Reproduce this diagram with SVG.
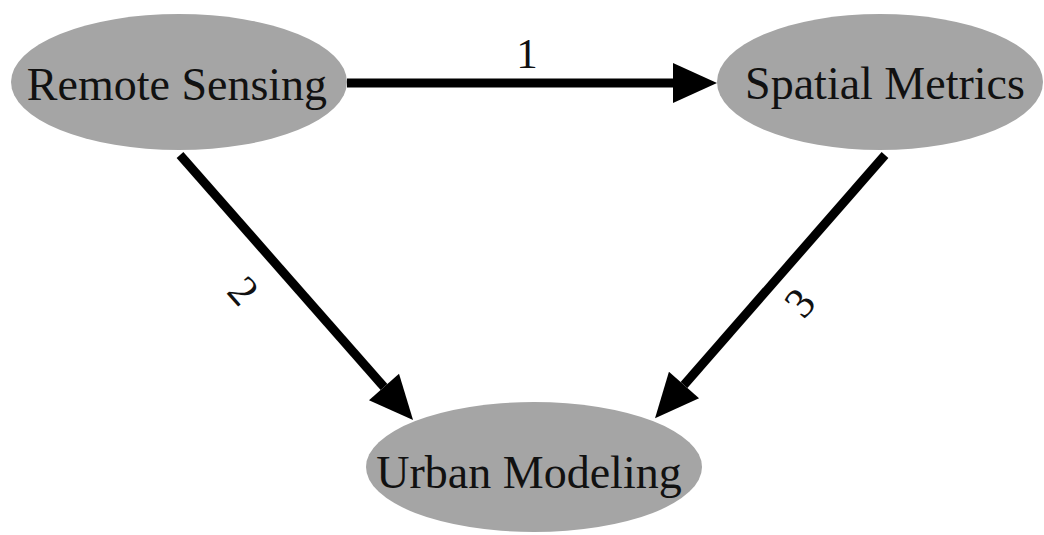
<svg xmlns="http://www.w3.org/2000/svg" width="1044" height="535" viewBox="0 0 1044 535">
  <style>
    .node ellipse { fill: #a5a5a5; }
    .node text, .label { font-family: "Liberation Serif", "Times New Roman", serif; fill: #111; text-anchor: middle; }
    .node text { font-size: 46px; }
    .label { font-size: 43px; }
    .edge { stroke: #000; stroke-width: 9; fill: none; marker-end: url(#head); }
  </style>
  <defs>
    <marker id="head" markerUnits="userSpaceOnUse" markerWidth="46" markerHeight="44" refX="0" refY="22" orient="auto" overflow="visible">
      <path d="M0,2 L44,22 L0,42 Z" fill="#000"/>
    </marker>
  </defs>
  <rect width="1044" height="535" fill="#fff"/>

  <g id="connectors">
    <line class="edge" x1="347" y1="83" x2="673" y2="83"/>
    <line class="edge" x1="180" y1="155" x2="384" y2="387"/>
    <line class="edge" x1="885" y1="155" x2="684" y2="385"/>
    <text class="label" x="527" y="68">1</text>
    <text class="label" transform="translate(243,291) rotate(48.7)" y="14">2</text>
    <text class="label" transform="translate(800,303) rotate(-48.8)" y="14">3</text>
  </g>

  <g id="remote-sensing" class="node">
    <ellipse cx="179" cy="82" rx="168" ry="68"/>
    <text x="177" y="100">Remote Sensing</text>
  </g>
  <g id="spatial-metrics" class="node">
    <ellipse cx="880" cy="82" rx="163" ry="68"/>
    <text x="885" y="99">Spatial Metrics</text>
  </g>
  <g id="urban-modeling" class="node">
    <ellipse cx="534" cy="467" rx="168" ry="65"/>
    <text x="529" y="488">Urban Modeling</text>
  </g>
</svg>
